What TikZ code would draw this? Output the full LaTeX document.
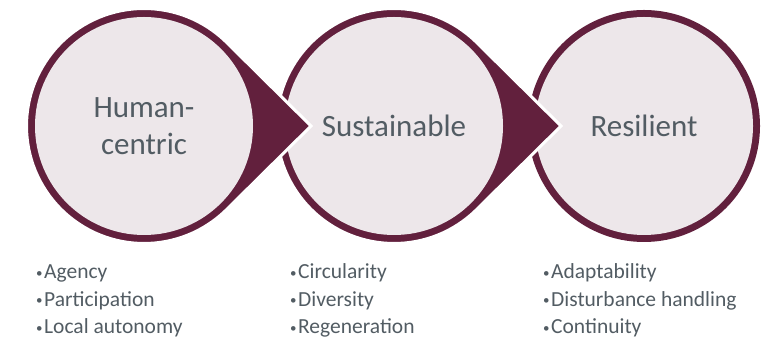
\documentclass[tikz,border=0pt]{standalone}
\usepackage{fontspec}
\setmainfont{Carlito}
\definecolor{maroon}{HTML}{62203D}
\definecolor{blush}{HTML}{EDE7EA}
\definecolor{slate}{HTML}{525C63}
\newcommand{\dotmark}{\raisebox{1.5pt}{\fontsize{13}{13}\selectfont•}\hspace{1.5pt}}
\tikzset{
  stage/.style={circle, fill=blush, minimum size=218pt, inner sep=0pt, text=slate,
    align=center, font=\fontsize{31}{37}\selectfont},
  ring/.style={fill=maroon, draw=white, line width=3pt},
  point/.style={anchor=base west, inner sep=0pt, text=slate, font=\fontsize{21.5}{26}\selectfont}
}
\begin{document}
\begin{tikzpicture}[x=1pt,y=1pt]
		\useasboundingbox (0,0) rectangle (767,339);
		
		% last stage first, so every tip lies over the next circle
		\fill[maroon] (644,213) circle (116);
		\node [stage] (resilient) at (644,213) {Resilient};
		
		\draw [ring] (394,213) +(45.3:117.5) arc (45.3:314.7:117.5) -- (561,213) -- cycle;
		\node [stage] (sustainable) at (394,213) {Sustainable};
		
		\draw [ring] (144,213) +(45.3:117.5) arc (45.3:314.7:117.5) -- (311,213) -- cycle;
		\node [stage] (human) at (144,213) {Human-\\centric};
		
		\node [point] (agency) at (36,60) {\dotmark Agency};
		\node [point] (participation) at (36,32.5) {\dotmark Participation};
		\node [point] (autonomy) at (36,5) {\dotmark Local autonomy};
		
		\node [point] (circularity) at (290,60) {\dotmark Circularity};
		\node [point] (diversity) at (290,32.5) {\dotmark Diversity};
		\node [point] (regeneration) at (290,5) {\dotmark Regeneration};
		
		\node [point] (adaptability) at (543,60) {\dotmark Adaptability};
		\node [point] (disturbance) at (543,32.5) {\dotmark Disturbance handling};
		\node [point] (continuity) at (543,5) {\dotmark Continuity};
		
\end{tikzpicture}
\end{document}
